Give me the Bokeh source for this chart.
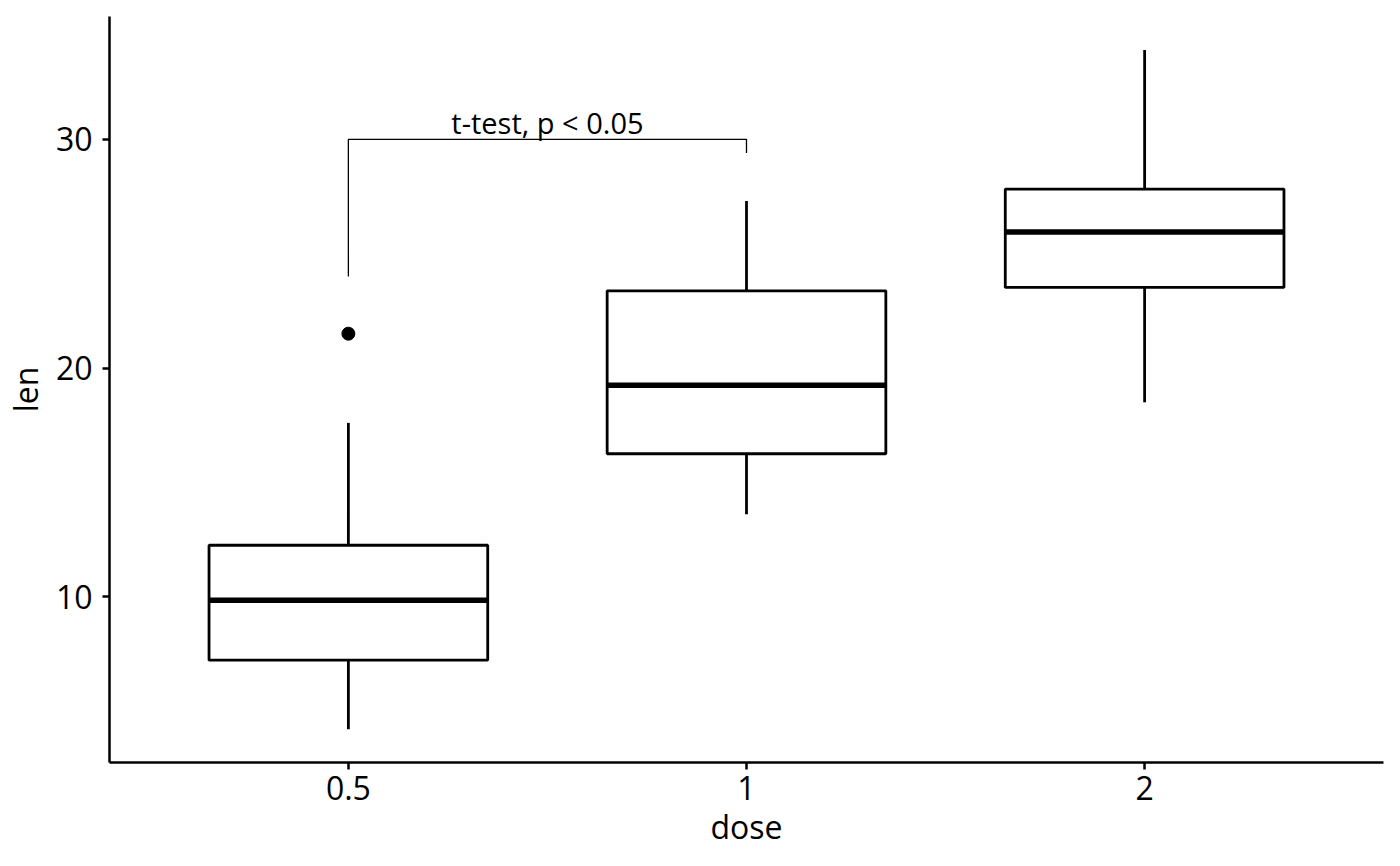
from bokeh.plotting import figure
from bokeh.models import FixedTicker, Range1d, ColumnDataSource, Label
from bokeh.embed import file_html
from bokeh.resources import INLINE

doses = ["0.5", "1", "2"]
lower = [4.2, 13.6, 18.5]
q1 = [7.225, 16.25, 23.525]
median = [9.85, 19.25, 25.95]
q3 = [12.25, 23.375, 27.825]
upper = [17.6, 27.3, 33.9]
outlier_group = ["0.5"]
outlier_value = [21.5]

bracket_groups = ["0.5", "1"]
bracket_start = [24.0, 29.4]
bracket_top = 30.0
bracket_label = "t-test, p < 0.05"

FONT = "Open Sans"
pos = {d: i + 1 for i, d in enumerate(doses)}
xs = [pos[d] for d in doses]
half = 0.35

p = figure(width=1384, height=850, output_backend="svg", toolbar_location=None,
           x_range=Range1d(0.4, 3.6), y_range=Range1d(2.75, 35.37),
           min_border_left=105, min_border_right=1, min_border_top=16, min_border_bottom=87)
p.outline_line_color = None
p.xgrid.visible = False
p.ygrid.visible = False
p.background_fill_color = "white"

src = ColumnDataSource(dict(x=xs, lower=lower, q1=q1, median=median, q3=q3, upper=upper,
                            left=[x - half for x in xs], right=[x + half for x in xs]))
p.segment(x0="x", y0="q3", x1="x", y1="upper", source=src, line_color="black", line_width=2.8)
p.segment(x0="x", y0="lower", x1="x", y1="q1", source=src, line_color="black", line_width=2.8)
p.vbar(x="x", width=2 * half, bottom="q1", top="q3", source=src, fill_color="white",
       line_color="black", line_width=2.8)
p.segment(x0="left", x1="right", y0="median", y1="median", source=src,
          line_color="black", line_width=5.5)
p.scatter([pos[g] for g in outlier_group], outlier_value, size=13, color="black")

bx0, bx1 = pos[bracket_groups[0]], pos[bracket_groups[1]]
p.line([bx0, bx0, bx1, bx1], [bracket_start[0], bracket_top, bracket_top, bracket_start[1]],
       line_color="black", line_width=1.3)
p.add_layout(Label(x=(bx0 + bx1) / 2, y=bracket_top, text=bracket_label, text_align="center",
                   text_baseline="bottom", y_offset=-3, text_font=FONT, text_font_size="29px",
                   text_color="black"))

p.xaxis.ticker = FixedTicker(ticks=xs)
p.xaxis.major_label_overrides = {x: d for x, d in zip(xs, doses)}
p.yaxis.ticker = FixedTicker(ticks=[10, 20, 30])
p.xaxis.axis_label = "dose"
p.yaxis.axis_label = "len"
for ax in (p.xaxis, p.yaxis):
    ax.axis_line_width = 2.5
    ax.axis_line_color = "black"
    ax.major_tick_line_width = 2.5
    ax.major_tick_line_color = "black"
    ax.major_tick_out = 7
    ax.major_tick_in = 0
    ax.minor_tick_line_color = None
    ax.major_label_text_font = FONT
    ax.major_label_text_font_size = "32px"
    ax.major_label_text_color = "black"
    ax.axis_label_text_font = FONT
    ax.axis_label_text_font_size = "32px"
    ax.axis_label_text_font_style = "normal"
    ax.axis_label_text_color = "black"
p.xaxis.major_label_standoff = 6
p.yaxis.major_label_standoff = 10
p.xaxis.axis_label_standoff = 2
p.yaxis.axis_label_standoff = 6

open("out.html", "w").write(file_html(p, INLINE))
